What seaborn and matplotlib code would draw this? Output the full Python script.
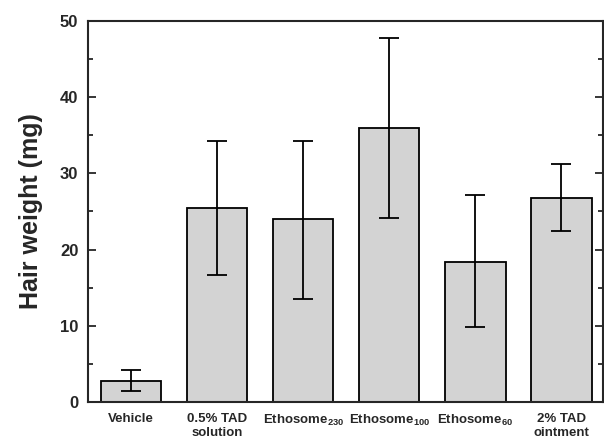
import matplotlib
matplotlib.use('Agg')
from matplotlib import pyplot as plt
from matplotlib.ticker import MultipleLocator
import seaborn as sns
import pandas as pd

# values
groups = ['Vehicle', '0.5% TAD\nsolution', r'Ethosome$_{230}$', r'Ethosome$_{100}$',
          r'Ethosome$_{60}$', '2% TAD\nointment']
hair_weight = [2.8, 25.4, 24.0, 36.0, 18.4, 26.8]
err_low = [1.4, 16.7, 13.5, 24.1, 9.9, 22.4]
err_high = [4.2, 34.3, 34.3, 47.8, 27.2, 31.2]

sns.set_style('ticks')
plt.rcParams['font.family'] = ['Liberation Sans', 'DejaVu Sans']
plt.rcParams['font.weight'] = 'bold'
plt.rcParams['mathtext.fontset'] = 'custom'
plt.rcParams['mathtext.rm'] = 'Liberation Sans:bold'
plt.rcParams['mathtext.default'] = 'rm'

df = pd.DataFrame({'group': groups, 'weight': hair_weight})

fig = plt.figure(figsize=(6.04, 4.42), dpi=100)
ax = fig.add_axes([0.1457, 0.0905, 0.8523, 0.862])
sns.barplot(data=df, x='group', y='weight', color='#d3d3d3', edgecolor='black',
            linewidth=1.3, width=0.7, saturation=1, errorbar=None, ax=ax)

yerr = [[m - lo for m, lo in zip(hair_weight, err_low)],
        [hi - m for m, hi in zip(hair_weight, err_high)]]
ax.errorbar(range(len(groups)), hair_weight, yerr=yerr, fmt='none',
            ecolor='black', elinewidth=1.3, capsize=7, capthick=1.3)

ax.set_ylim(0, 50)
ax.set_xlim(-0.5, 5.48)
ax.yaxis.set_major_locator(MultipleLocator(10))
ax.yaxis.set_minor_locator(MultipleLocator(5))
ax.tick_params(axis='y', which='both', direction='in', right=True, width=1.3,
               labelsize=12, pad=7)
ax.tick_params(axis='y', which='major', length=6)
ax.tick_params(axis='y', which='minor', length=3.5)
ax.tick_params(axis='x', length=0, labelsize=9.5, pad=8)
for lab in ax.get_xticklabels() + ax.get_yticklabels():
    lab.set_fontweight('bold')
for s in ax.spines.values():
    s.set_linewidth(1.5)

ax.set_xlabel('')
ax.set_ylabel('Hair weight (mg)', fontsize=18, fontweight='bold', labelpad=12)

plt.savefig('out.png', dpi=100)
